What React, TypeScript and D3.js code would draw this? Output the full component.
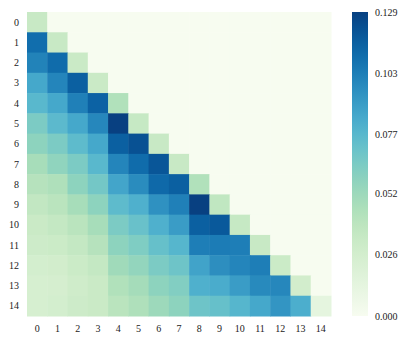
import React from "react";
import * as d3 from "d3";

const labels = ["0","1","2","3","4","5","6","7","8","9","10","11","12","13","14"];

const row0 = [0.033];
const row1 = [0.110, 0.033];
const row2 = [0.101, 0.111, 0.032];
const row3 = [0.085, 0.100, 0.116, 0.032];
const row4 = [0.077, 0.085, 0.102, 0.115, 0.044];
const row5 = [0.064, 0.076, 0.085, 0.099, 0.129, 0.034];
const row6 = [0.058, 0.064, 0.075, 0.085, 0.116, 0.122, 0.033];
const row7 = [0.048, 0.057, 0.064, 0.077, 0.100, 0.111, 0.120, 0.033];
const row8 = [0.042, 0.045, 0.058, 0.067, 0.086, 0.097, 0.112, 0.116, 0.044];
const row9 = [0.036, 0.040, 0.048, 0.058, 0.075, 0.081, 0.095, 0.102, 0.129, 0.037];
const row10 = [0.032, 0.035, 0.040, 0.048, 0.064, 0.071, 0.081, 0.090, 0.116, 0.119, 0.034];
const row11 = [0.030, 0.031, 0.035, 0.042, 0.058, 0.063, 0.072, 0.078, 0.103, 0.104, 0.103, 0.033];
const row12 = [0.026, 0.027, 0.031, 0.035, 0.051, 0.056, 0.064, 0.069, 0.087, 0.096, 0.100, 0.103, 0.031];
const row13 = [0.024, 0.025, 0.029, 0.032, 0.044, 0.049, 0.058, 0.062, 0.081, 0.083, 0.090, 0.098, 0.099, 0.027];
const row14 = [0.024, 0.026, 0.030, 0.032, 0.040, 0.045, 0.052, 0.058, 0.069, 0.072, 0.078, 0.085, 0.093, 0.082, 0.013];

const rows = [row0,row1,row2,row3,row4,row5,row6,row7,row8,row9,row10,row11,row12,row13,row14];
const colorTicks = [0, 0.026, 0.052, 0.077, 0.103, 0.129];
const vmax = 0.129;

export default function App() {
  const W = 407, H = 343;
  const left = 27, top = 12, size = 304;
  const x = d3.scaleBand().domain(labels).range([left, left + size]);
  const y = d3.scaleBand().domain(labels).range([top, top + size]);
  const color = d3.scaleSequential(d3.interpolateGnBu).domain([0, vmax]);
  const cbX = 352, cbW = 16;
  const cbY = d3.scaleLinear().domain([0, vmax]).range([top + size, top]);
  const stops = d3.range(0, 1.0001, 0.05);
  const cells: any[] = [];
  labels.forEach((rl, i) => {
    labels.forEach((cl, j) => {
      const v = j <= i ? rows[i][j] : 0;
      cells.push(
        <rect key={rl + "-" + cl} x={x(cl)} y={y(rl)} width={x.bandwidth() + 0.5} height={y.bandwidth() + 0.5} fill={color(v)} />
      );
    });
  });
  const font = "'Liberation Serif', 'Times New Roman', serif";
  return (
    <svg width={W} height={H} style={{ position: "absolute", left: 0, top: 0, background: "#fff" }} fontFamily={font} fontSize={10}>
      <defs>
        <linearGradient id="cb" x1="0" y1="1" x2="0" y2="0">
          {stops.map((s) => (
            <stop key={s} offset={s} stopColor={color(s * vmax)} />
          ))}
        </linearGradient>
      </defs>
      {cells}
      {labels.map((l) => (
        <text key={"y" + l} x={19} y={(y(l) as number) + y.bandwidth() / 2} textAnchor="end" dominantBaseline="central" fill="#222">{l}</text>
      ))}
      {labels.map((l) => (
        <text key={"x" + l} x={(x(l) as number) + x.bandwidth() / 2} y={328} textAnchor="middle" dominantBaseline="central" fill="#222">{l}</text>
      ))}
      <rect x={cbX} y={top} width={cbW} height={size} fill="url(#cb)" />
      {colorTicks.map((t) => (
        <text key={"c" + t} x={375} y={cbY(t)} dominantBaseline="central" fill="#222">{t.toFixed(3)}</text>
      ))}
    </svg>
  );
}
